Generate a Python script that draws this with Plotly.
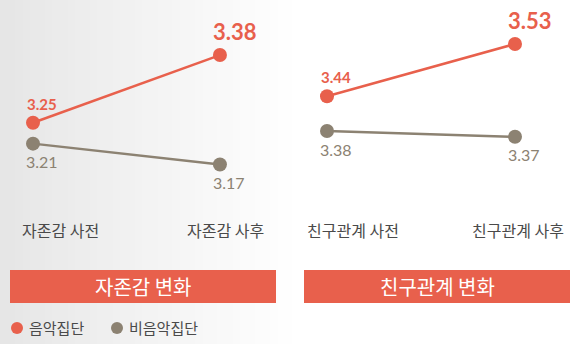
import plotly.graph_objects as go

# --- data -------------------------------------------------------------
stages_self = ["자존감 사전", "자존감 사후"]
stages_friend = ["친구관계 사전", "친구관계 사후"]
music_self = [3.25, 3.38]
nonmusic_self = [3.21, 3.17]
music_friend = [3.44, 3.53]
nonmusic_friend = [3.38, 3.37]
series_names = ["음악집단", "비음악집단"]
panel_titles = ["자존감 변화", "친구관계 변화"]

RED = "#e8604c"
GRAY = "#8c8272"
W, H = 570, 344
KR = "Noto Sans CJK KR, Noto Sans, sans-serif"
NUM = "Lato, Noto Sans, sans-serif"


def px(x):
    return x / W


def py(y):
    return 1 - y / H


fig = go.Figure()

panels = [
    ("x", "y", stages_self, music_self, nonmusic_self),
    ("x2", "y2", stages_friend, music_friend, nonmusic_friend),
]

for xa, ya, cats, mus, non in panels:
    for vals, color, name in ((mus, RED, series_names[0]), (non, GRAY, series_names[1])):
        fig.add_trace(go.Scatter(
            x=cats, y=vals, xaxis=xa, yaxis=ya, name=name,
            mode="lines+markers", showlegend=False,
            line=dict(color=color, width=2.5),
            marker=dict(color=color, size=14),
            hoverinfo="skip",
        ))

annotations = []
for xa, ya, cats, mus, non in panels:
    # music group: before (small bold), after (large bold)
    annotations.append(dict(x=cats[0], y=mus[0], xref=xa, yref=ya, text=f"<b>{mus[0]:.2f}</b>",
                            showarrow=False, xshift=9, yshift=19,
                            font=dict(family=NUM, size=15, color=RED)))
    annotations.append(dict(x=cats[1], y=mus[1], xref=xa, yref=ya, text=f"<b>{mus[1]:.2f}</b>",
                            showarrow=False, xshift=15, yshift=24,
                            font=dict(family=NUM, size=22, color=RED)))
    # non-music group labels below the points
    for c, v in zip(cats, non):
        annotations.append(dict(x=c, y=v, xref=xa, yref=ya, text=f"{v:.2f}",
                                showarrow=False, xshift=9, yshift=-18,
                                font=dict(family=NUM, size=16, color=GRAY)))

# stage labels
for label, cx in zip(stages_self + stages_friend, [60, 225, 353, 518]):
    annotations.append(dict(x=px(cx), y=py(230), xref="paper", yref="paper", text=label,
                            showarrow=False, xanchor="center", yanchor="middle",
                            font=dict(family=KR, size=16, color="#4a4a4a")))

shapes = []
# soft grey-to-white backdrop on the left
steps = 40
for i in range(steps):
    x0 = 300 * i / steps
    x1 = 300 * (i + 1) / steps
    t = (i + 0.5) / steps
    g = round(229 + (255 - 229) * t ** 0.9)
    shapes.append(dict(type="rect", xref="paper", yref="paper", layer="below",
                       x0=px(x0), x1=px(x1) + 0.001, y0=0, y1=1,
                       line=dict(width=0), fillcolor=f"rgb({g},{g},{g})"))

# panel title bars
for (x0, x1), title in zip([(10, 276), (304, 570)], panel_titles):
    shapes.append(dict(type="rect", xref="paper", yref="paper", layer="below",
                       x0=px(x0), x1=px(x1), y0=py(303), y1=py(270),
                       line=dict(width=0), fillcolor=RED))
    annotations.append(dict(x=px((x0 + x1) / 2), y=py(286), xref="paper", yref="paper",
                            text=title, showarrow=False, xanchor="center", yanchor="middle",
                            font=dict(family=KR, size=20, color="white")))

# legend
for name, color, cx in zip(series_names, [RED, GRAY], [17, 117]):
    shapes.append(dict(type="circle", xref="paper", yref="paper",
                       x0=px(cx - 6), x1=px(cx + 6), y0=py(334), y1=py(322),
                       line=dict(width=0), fillcolor=color))
    annotations.append(dict(x=px(cx + 10), y=py(327), xref="paper", yref="paper",
                            text=name, showarrow=False, xanchor="left", yanchor="middle",
                            font=dict(family=KR, size=15, color="#4a4a4a")))

hidden = dict(showgrid=False, zeroline=False, showticklabels=False, showline=False,
              ticks="", fixedrange=True)

fig.update_layout(
    width=W, height=H,
    margin=dict(l=0, r=0, t=0, b=0),
    paper_bgcolor="white",
    plot_bgcolor="rgba(0,0,0,0)",
    showlegend=False,
    xaxis=dict(hidden, domain=[0, 0.5], type="category", range=[-0.1765, 1.348]),
    xaxis2=dict(hidden, domain=[0.5, 1], type="category", range=[-0.2234, 1.2926]),
    yaxis=dict(hidden, domain=[0, 1], range=[2.8254, 3.4857], anchor="x"),
    yaxis2=dict(hidden, domain=[0, 1], range=[3.0128, 3.6059], anchor="x2"),
    shapes=shapes,
    annotations=annotations,
)

fig.write_html("out.html")
